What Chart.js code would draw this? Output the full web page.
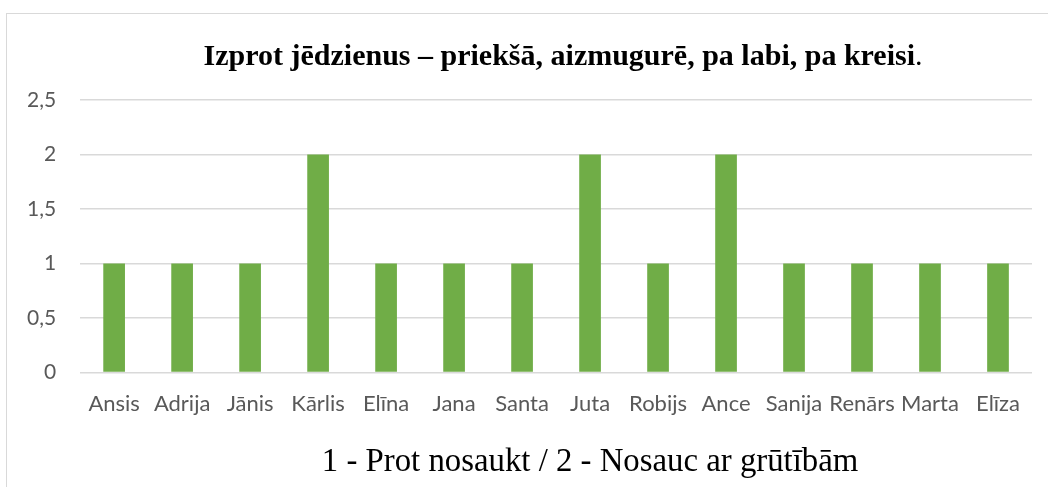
<!DOCTYPE html>
<html lang="lv">

<head>
    <meta charset="UTF-8">
    <script src="https://cdn.jsdelivr.net/npm/chart.js"></script>
    <title>Izprot jēdzienus</title>
    <style>
        html, body { margin: 0; padding: 0; background: #fff; }
        #wrap { position: relative; width: 1048px; height: 487px; overflow: hidden; }
        #frame { position: absolute; left: 6px; top: 13px; width: 1100px; height: 600px;
                 border: 1px solid #d9d9d9; box-sizing: border-box; }
        canvas { position: absolute; left: 0; top: 0; }
    </style>
</head>

<body>
    <div id="wrap">
        <div id="frame"></div>
        <canvas id="myChart" width="1048" height="487"></canvas>
    </div>
    <script>
        // dati
        const names = ['Ansis', 'Adrija', 'Jānis', 'Kārlis', 'Elīna', 'Jana', 'Santa',
            'Juta', 'Robijs', 'Ance', 'Sanija', 'Renārs', 'Marta', 'Elīza'];
        const scores = [1, 1, 1, 2, 1, 1, 1, 2, 1, 2, 1, 1, 1, 1];
        const yTicks = [0, 0.5, 1, 1.5, 2, 2.5];

        const chartTitle = 'Izprot jēdzienus – priekšā, aizmugurē, pa labi, pa kreisi';
        const xTitle = '1 - Prot nosaukt / 2 - Nosauc ar grūtībām';

        const tickFont = { family: 'Lato', size: 22 };
        const serif = '"Liberation Serif", "Times New Roman", serif';

        // virsraksts (treknrakstā, punkts parastā) un ass nosaukums apakšā
        const headings = {
            id: 'headings',
            afterDraw(chart) {
                const c = chart.ctx;
                const mid = (chart.chartArea.left + chart.chartArea.right) / 2;
                c.save();
                c.fillStyle = '#000';
                c.textBaseline = 'middle';
                c.textAlign = 'left';

                const boldFont = 'bold 30px ' + serif;
                const normFont = '30px ' + serif;
                c.font = boldFont;
                const w1 = c.measureText(chartTitle).width;
                c.font = normFont;
                const w2 = c.measureText('.').width;
                let x = mid + 7 - (w1 + w2) / 2;
                c.font = boldFont;
                c.fillText(chartTitle, x, 57);
                c.font = normFont;
                c.fillText('.', x + w1, 57);

                c.font = '32.8px ' + serif;
                c.textAlign = 'center';
                c.fillText(xTitle, mid + 34, 462);
                c.restore();
            },
        };

        const chartConfig = {
            type: 'bar',
            data: {
                labels: names,
                datasets: [{
                    data: scores,
                    backgroundColor: '#70AD47',
                    barPercentage: 0.55,
                    categoryPercentage: 0.58,
                }],
            },
            options: {
                responsive: false,
                animation: false,
                layout: { padding: { left: 3, right: 16, top: 100, bottom: 60 } },
                plugins: {
                    legend: { display: false },
                    tooltip: { enabled: false },
                    title: { display: false },
                },
                scales: {
                    x: {
                        grid: { display: false },
                        border: { display: false },
                        ticks: { color: '#595959', font: tickFont, maxRotation: 0, autoSkip: false, padding: 10 },
                    },
                    y: {
                        min: 0,
                        max: 2.5,
                        afterBuildTicks: (axis) => { axis.ticks = yTicks.map(v => ({ value: v })); },
                        grid: { color: '#d9d9d9', lineWidth: 1.5, drawTicks: false },
                        border: { display: false },
                        ticks: {
                            color: '#595959', font: { family: 'Lato', size: 21 }, padding: 24,
                            callback: (v) => String(v).replace('.', ','),
                        },
                    },
                },
            },
            plugins: [headings],
        };

        const ctx = document.getElementById('myChart').getContext('2d');
        const myChart = new Chart(ctx, chartConfig);
    </script>
</body>

</html>
